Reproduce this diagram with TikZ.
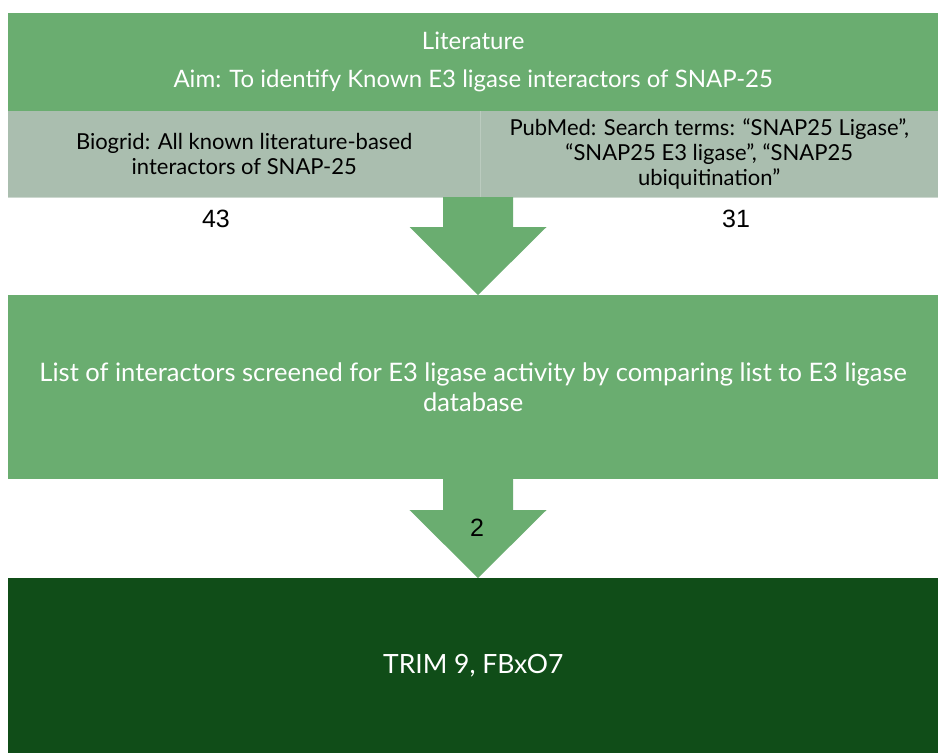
\documentclass[tikz,border=0pt]{standalone}
\usepackage{fontspec}
\setmainfont{Lato}
\newfontfamily\numfont{Liberation Sans}
\usetikzlibrary{positioning,calc}
\definecolor{litgreen}{RGB}{106,173,112}
\definecolor{srcgrey}{RGB}{170,190,175}
\definecolor{hitgreen}{RGB}{16,77,24}
\tikzset{
	band/.style={fill=litgreen,text=white,inner sep=0pt,align=center,
		font=\fontsize{24}{38}\selectfont},
	srcbox/.style={fill=srcgrey,text=black,inner sep=0pt,align=center,
		minimum height=86pt,font=\fontsize{22}{25}\selectfont},
	count/.style={text=black,inner sep=0pt,font=\numfont\fontsize{25}{25}\selectfont},
	flow/.style={fill=litgreen},
}
% block arrow from the bottom of one box to the top of the next
\newcommand{\flowarrow}[3]{%
	\fill[flow] ($(#1)+(-35,0)$) -- ($(#1)+(-35,#3)$) -- ($(#1)+(-68.5,#3)$)
	-- (#2) -- ($(#1)+(68.5,#3)$) -- ($(#1)+(35,#3)$) -- ($(#1)+(35,0)$) -- cycle;}

\begin{document}
\begin{tikzpicture}[x=1pt,y=-1pt]
	\useasboundingbox[fill=white] (0,0) rectangle (938,753);
	%% literature search
	\node[band,anchor=north west,minimum width=930pt,minimum height=98pt] (lit) at (8,13)
		{Literature\\Aim: To identify Known E3 ligase interactors of SNAP-25};
	\node[srcbox,anchor=north west,minimum width=472pt] (biogrid) at (8,111)
		{Biogrid: All known literature-based\\interactors of SNAP-25};
	\node[srcbox,anchor=north west,minimum width=458pt] (pubmed) at (480,111)
		{PubMed: Search terms: ``SNAP25 Ligase'',\\``SNAP25 E3 ligase'', ``SNAP25\\ubiquitination''};
	\draw[srcgrey!80!white,line width=1pt] (biogrid.north east) -- (biogrid.south east);
	\draw[srcgrey!60!white,line width=0.8pt] (biogrid.south west) -- (pubmed.south east);
	\node[count] (n43) at (216,219) {43};
	\node[count] (n31) at (736,219) {31};
	%% screening
	\node[band,anchor=north west,minimum width=930pt,minimum height=184pt,
		font=\fontsize{25.5}{30}\selectfont] (screen) at (8,295)
		{List of interactors screened for E3 ligase activity by comparing list to E3 ligase\\database};
	%% result
	\node[band,fill=hitgreen,anchor=north west,minimum width=930pt,minimum height=175pt,
		font=\fontsize{26.5}{30}\selectfont] (hits) at (8,578) {TRIM 9, FBxO7};
	% arrows between the steps
	\coordinate (a1) at (478,197);
	\coordinate (a2) at (478,479);
	\flowarrow{a1}{screen.north -| a1}{30}
	\flowarrow{a2}{hits.north -| a2}{31}
	\node[count] (n2) at (477,528) {2};
\end{tikzpicture}
\end{document}
